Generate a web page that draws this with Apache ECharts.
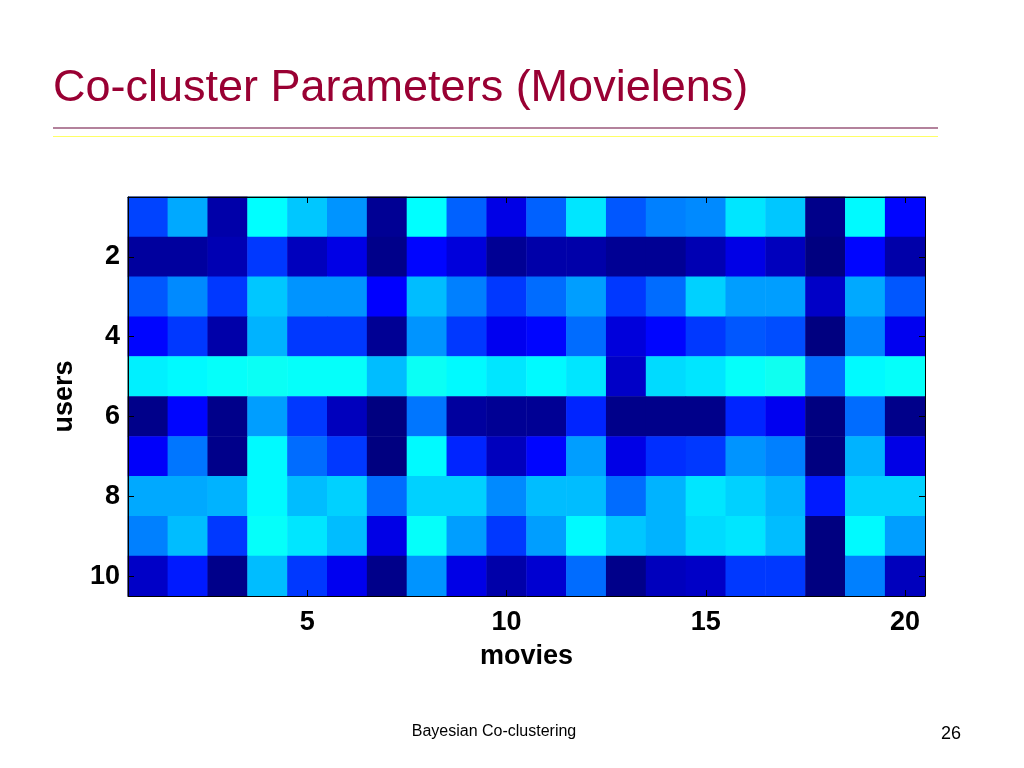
<!DOCTYPE html>
<html>
<head>
<meta charset="utf-8">
<style>
html,body{margin:0;padding:0;background:#fff;}
#chart{width:1024px;height:768px;}
</style>
<script src="https://cdn.jsdelivr.net/npm/echarts@6/dist/echarts.min.js"></script>
</head>
<body>
<div id="chart"></div>
<script>
// Data: colour position on the jet colormap (0..1) for each user (row) x movie (column)
const movies = ['1','2','3','4','5','6','7','8','9','10','11','12','13','14','15','16','17','18','19','20'];
const users = ['1','2','3','4','5','6','7','8','9','10'];
const user1  = [0.19,0.29,0.04,0.375,0.32,0.27,0.02,0.375,0.22,0.10,0.22,0.35,0.21,0.25,0.26,0.35,0.32,0.01,0.37,0.13];
const user2  = [0.03,0.03,0.05,0.18,0.06,0.10,0.01,0.13,0.09,0.02,0.04,0.04,0.02,0.02,0.05,0.10,0.06,0.00,0.13,0.04];
const user3  = [0.21,0.26,0.18,0.32,0.27,0.27,0.125,0.31,0.25,0.18,0.23,0.28,0.18,0.23,0.33,0.28,0.28,0.07,0.29,0.21];
const user4  = [0.13,0.18,0.04,0.30,0.18,0.18,0.02,0.27,0.18,0.11,0.13,0.23,0.09,0.13,0.18,0.21,0.20,0.00,0.25,0.11];
const user5  = [0.36,0.37,0.38,0.385,0.38,0.38,0.31,0.385,0.37,0.35,0.37,0.35,0.07,0.34,0.35,0.38,0.39,0.23,0.37,0.38];
const user6  = [0.01,0.13,0.01,0.28,0.18,0.06,0.00,0.24,0.03,0.02,0.02,0.16,0.01,0.01,0.01,0.16,0.11,0.00,0.23,0.01];
const user7  = [0.12,0.24,0.01,0.37,0.23,0.18,0.00,0.37,0.16,0.06,0.13,0.28,0.10,0.17,0.18,0.27,0.25,0.00,0.30,0.10];
const user8  = [0.29,0.29,0.30,0.37,0.31,0.33,0.23,0.33,0.33,0.26,0.31,0.31,0.23,0.30,0.35,0.33,0.30,0.15,0.33,0.33];
const user9  = [0.25,0.31,0.18,0.38,0.35,0.31,0.10,0.38,0.28,0.18,0.28,0.37,0.32,0.30,0.34,0.35,0.31,0.00,0.37,0.28];
const user10 = [0.07,0.15,0.01,0.31,0.18,0.11,0.01,0.27,0.10,0.04,0.08,0.23,0.01,0.06,0.07,0.18,0.18,0.00,0.25,0.06];
const rows = [user1,user2,user3,user4,user5,user6,user7,user8,user9,user10];

const titleText = 'Co-cluster Parameters (Movielens)';
const footerText = 'Bayesian Co-clustering';
const pageNumber = '26';

const cells = [];
rows.forEach((r, yi) => r.forEach((v, xi) => cells.push([xi, yi, v])));

const jet = ['#000080','#0000ff','#0080ff','#00ffff','#80ff80','#ffff00','#ff8000','#ff0000','#800000'];
const tickFont = {fontFamily:'Liberation Sans, Arial, sans-serif', fontWeight:'bold', fontSize:27, color:'#000'};

const chart = echarts.init(document.getElementById('chart'));
chart.setOption({
  animation:false,
  backgroundColor:'#fff',
  grid:{left:128, right:99, top:197, bottom:172, show:true, borderColor:'#000', borderWidth:1, backgroundColor:'transparent'},
  visualMap:{show:false, type:'continuous', min:0, max:1, dimension:2, inRange:{color:jet}},
  xAxis:[{
    type:'category', data:movies, position:'bottom',
    name:'movies', nameLocation:'middle', nameGap:47,
    nameTextStyle:tickFont,
    axisLine:{show:true, lineStyle:{color:'#000'}},
    axisTick:{show:true, inside:true, length:6, alignWithLabel:true, interval:(i)=>(i+1)%5===0, lineStyle:{color:'#000'}},
    axisLabel:Object.assign({interval:(i)=>(i+1)%5===0, margin:13}, tickFont),
    splitLine:{show:false}, z:10
  },{
    type:'category', data:movies, position:'top',
    axisLine:{show:true, lineStyle:{color:'#000'}},
    axisTick:{show:true, inside:true, length:6, alignWithLabel:true, interval:(i)=>(i+1)%5===0, lineStyle:{color:'#000'}},
    axisLabel:{show:false}, splitLine:{show:false}, z:10
  }],
  yAxis:[{
    type:'category', data:users, inverse:true, position:'left',
    name:'users', nameLocation:'middle', nameGap:50, nameRotate:90,
    nameTextStyle:tickFont,
    axisLine:{show:true, lineStyle:{color:'#000'}},
    axisTick:{show:true, inside:true, length:6, alignWithLabel:true, interval:(i)=>(i+1)%2===0, lineStyle:{color:'#000'}},
    axisLabel:Object.assign({interval:(i)=>(i+1)%2===0, margin:8}, tickFont),
    splitLine:{show:false}, z:10
  },{
    type:'category', data:users, inverse:true, position:'right',
    axisLine:{show:true, lineStyle:{color:'#000'}},
    axisTick:{show:true, inside:true, length:6, alignWithLabel:true, interval:(i)=>(i+1)%2===0, lineStyle:{color:'#000'}},
    axisLabel:{show:false}, splitLine:{show:false}, z:10
  }],
  series:[{
    type:'heatmap', data:cells, xAxisIndex:0, yAxisIndex:0,
    itemStyle:{borderWidth:0}, emphasis:{disabled:true}, progressive:0
  }],
  graphic:[
    {type:'text', left:53, top:66, style:{text:titleText, fill:'#990033', font:'45px "Liberation Sans", Arial, sans-serif'}},
    {type:'rect', shape:{x:53, y:127, width:885, height:2}, style:{fill:'#b3829c'}},
    {type:'rect', shape:{x:53, y:136, width:885, height:1}, style:{fill:'#ffff66'}},
    {type:'text', x:494, y:732, style:{text:footerText, fill:'#000', align:'center', verticalAlign:'middle', font:'16px "Liberation Sans", Arial, sans-serif'}},
    {type:'text', x:961, y:734, style:{text:pageNumber, fill:'#000', align:'right', verticalAlign:'middle', font:'18px "Liberation Sans", Arial, sans-serif'}}
  ]
});
</script>
</body>
</html>
